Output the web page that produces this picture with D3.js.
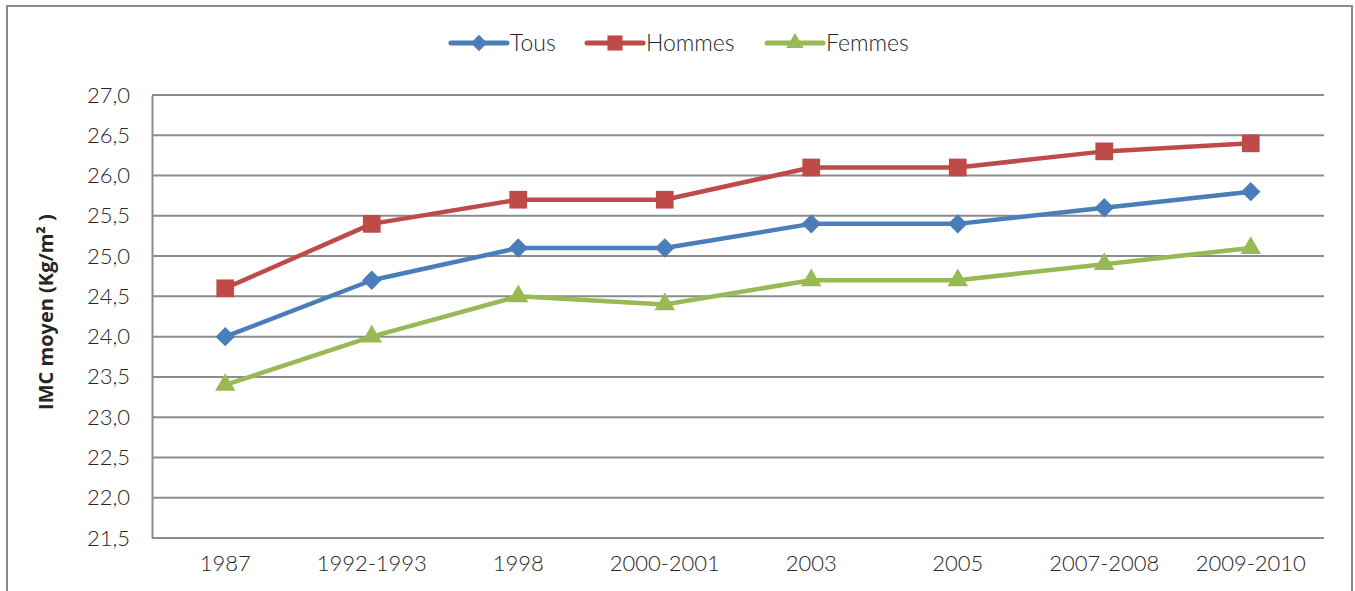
<!DOCTYPE html>
<html>
<head>
<meta charset="utf-8">
<script src="https://cdn.jsdelivr.net/npm/d3@7"></script>
<style>
  body { margin: 0; background: #fff; }
  svg text { font-family: Lato, "DejaVu Sans", sans-serif; fill: #262626; }
</style>
</head>
<body>
<div class="svg-container"></div>
<script>
// data
const categories = ['1987', '1992-1993', '1998', '2000-2001', '2003', '2005', '2007-2008', '2009-2010'];
const tous = [24.0, 24.7, 25.1, 25.1, 25.4, 25.4, 25.6, 25.8];
const hommes = [24.6, 25.4, 25.7, 25.7, 26.1, 26.1, 26.3, 26.4];
const femmes = [23.4, 24.0, 24.5, 24.4, 24.7, 24.7, 24.9, 25.1];
const yTicks = [21.5, 22.0, 22.5, 23.0, 23.5, 24.0, 24.5, 25.0, 25.5, 26.0, 26.5, 27.0];
const seriesNames = ['Tous', 'Hommes', 'Femmes'];

const svgWidth = 1355;
const svgHeight = 591;
const margin = { top: 95, right: 31, bottom: 53, left: 152 };
const width = svgWidth - margin.left - margin.right;
const height = svgHeight - margin.top - margin.bottom;

const series = [
  { name: seriesNames[0], values: tous, color: '#4a7ebb', symbol: d3.symbolDiamond2, size: 240, legendSize: 170 },
  { name: seriesNames[1], values: hommes, color: '#be4b48', symbol: d3.symbolSquare2, size: 400, legendSize: 290 },
  { name: seriesNames[2], values: femmes, color: '#98b954', symbol: d3.symbolTriangle2, size: 300, legendSize: 220 },
];

const svg = d3.select('.svg-container')
  .append('svg')
  .attr('width', svgWidth)
  .attr('height', svgHeight);

// outer chart border
svg.append('rect')
  .attr('x', 7).attr('y', 6)
  .attr('width', 1345).attr('height', 600)
  .attr('fill', 'none')
  .attr('stroke', '#898989')
  .attr('stroke-width', 2);

const group = svg.append('g')
  .attr('transform', `translate(${margin.left}, ${margin.top})`);

const x = d3.scaleBand().domain(categories).range([0, width]);
const y = d3.scaleLinear().domain([21.5, 27.0]).range([height, 0]);

// gridlines
group.append('g')
  .selectAll('line')
  .data(yTicks)
  .join('line')
  .attr('x1', 0).attr('x2', width)
  .attr('y1', (d) => y(d)).attr('y2', (d) => y(d))
  .attr('stroke', '#8c8c8c')
  .attr('stroke-width', 2);

// Y axis
const yAxis = group.append('g')
  .call(d3.axisLeft(y).tickValues(yTicks).tickSize(0).tickPadding(22)
    .tickFormat((d) => d3.format('.1f')(d).replace('.', ',')));
yAxis.select('.domain').attr('stroke', '#8c8c8c').attr('stroke-width', 2);
yAxis.selectAll('text').style('font-size', '22px').style('font-weight', 300);

// X axis
const xAxis = group.append('g')
  .attr('transform', `translate(0, ${height})`)
  .call(d3.axisBottom(x).tickSize(0).tickPadding(17));
xAxis.select('.domain').remove();
xAxis.selectAll('text').style('font-size', '22px').style('font-weight', 300);

// Y axis title
svg.append('text')
  .attr('transform', `translate(53, 312) rotate(-90)`)
  .attr('text-anchor', 'middle')
  .style('font-size', '20px')
  .style('font-weight', 'bold')
  .style('font-family', '"Open Sans", sans-serif')
  .text('IMC moyen (Kg/m² )');

// lines and markers
const line = d3.line()
  .x((d, i) => x(categories[i]) + x.bandwidth() / 2)
  .y((d) => y(d));

series.forEach((s) => {
  group.append('path')
    .datum(s.values)
    .attr('fill', 'none')
    .attr('stroke', s.color)
    .attr('stroke-width', 4.5)
    .attr('stroke-linejoin', 'round')
    .attr('d', line);
  group.append('g')
    .selectAll('path')
    .data(s.values)
    .join('path')
    .attr('transform', (d, i) => `translate(${x(categories[i]) + x.bandwidth() / 2}, ${y(d)})`)
    .attr('d', d3.symbol().type(s.symbol).size(s.size))
    .attr('fill', s.color);
});

// legend
const legendX = [451, 587, 767];
const legend = svg.append('g');
series.forEach((s, i) => {
  const g = legend.append('g').attr('transform', `translate(${legendX[i]}, 43)`);
  g.append('line')
    .attr('x1', 0).attr('x2', 56)
    .attr('stroke', s.color)
    .attr('stroke-width', 5)
    .attr('stroke-linecap', 'round');
  g.append('path')
    .attr('transform', 'translate(28, 0)')
    .attr('d', d3.symbol().type(s.symbol).size(s.legendSize))
    .attr('fill', s.color);
  g.append('text')
    .attr('x', 59).attr('y', 8)
    .style('font-size', '23px')
    .style('font-weight', 300)
    .text(s.name);
});
</script>
</body>
</html>
